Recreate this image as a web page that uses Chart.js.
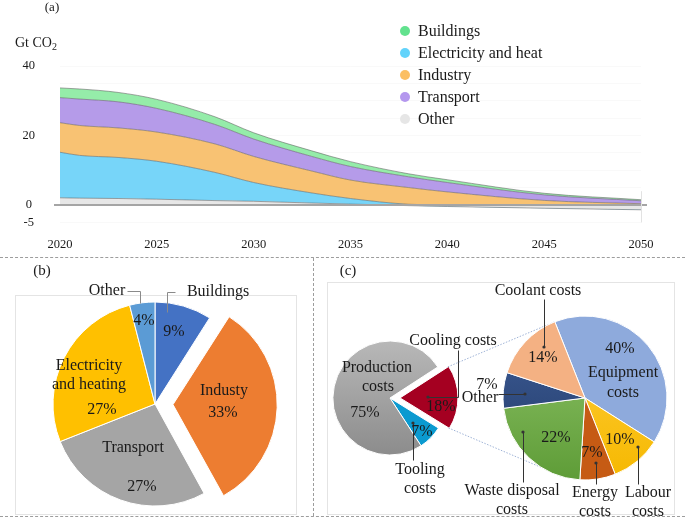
<!DOCTYPE html>
<html>
<head>
<meta charset="utf-8">
<script src="https://cdn.jsdelivr.net/npm/chart.js@4.4.1/dist/chart.umd.min.js"></script>
<style>
  html, body { margin: 0; padding: 0; background: #fff; }
  #wrap { position: relative; width: 685px; height: 525px; overflow: hidden; }
  canvas { position: absolute; }
  .dash { position: absolute; border: 0 dashed #9d9d9d; }
  .box { position: absolute; border: 1px solid #e4e4e4; }
</style>
</head>
<body>
<div id="wrap">
  <div class="box" style="left:15px;top:295px;width:280px;height:218px"></div>
  <div class="box" style="left:327px;top:282px;width:346px;height:231px"></div>
  <div class="dash" style="left:0;top:257px;width:685px;border-top-width:1px"></div>
  <div class="dash" style="left:313px;top:258px;height:258px;border-left-width:1px"></div>
  <div class="dash" style="left:0;top:516px;width:685px;border-top-width:1px"></div>
  <canvas id="areaChart" width="685" height="255" style="left:0;top:0;width:685px;height:255px"></canvas>
  <canvas id="sectorChart" width="312" height="262" style="left:0;top:258px;width:312px;height:262px"></canvas>
  <canvas id="costChart" width="371" height="262" style="left:314px;top:258px;width:371px;height:262px"></canvas>
  <canvas id="coolingChart" width="371" height="262" style="left:314px;top:258px;width:371px;height:262px"></canvas>
</div>
<script>
/* ---- Data: (a) emissions pathway, Gt CO2 ---- */
const years = [2020, 2021, 2023, 2025, 2028, 2030, 2033, 2035, 2038, 2040, 2045, 2050];
const otherEm = [2.1, 2.0, 1.9, 1.7, 1.3, 1.1, 0.6, 0.3, -0.15, -0.4, -0.9, -1.35];
const electricityEm = [13.1, 12.3, 11.8, 10.9, 8.1, 5.4, 2.9, 1.6, 0.25, 0.05, 0.05, 0.05];
const industryEm = [8.5, 8.6, 8.5, 8.4, 8.2, 7.5, 6.3, 5.3, 4.8, 3.75, 1.3, 0.35];
const transportEm = [7.2, 7.6, 7.5, 6.8, 5.6, 5.0, 4.2, 3.9, 3.1, 2.7, 1.6, 0.85];
const buildingsEm = [2.8, 2.9, 2.7, 2.6, 2.2, 1.8, 1.6, 1.4, 0.85, 0.8, 0.45, 0.3];
const xTickValues = [2020, 2025, 2030, 2035, 2040, 2045, 2050];
const yGridValues = [-5, 0, 5, 10, 15, 20, 25, 30, 35, 40];
const yTickLabels = [40, 20, 0, -5];
const legendOrder = ["Buildings", "Electricity and heat", "Industry", "Transport", "Other"];

/* ---- Data: (b) emissions by sector, % ---- */
const sectorNames = ["Buildings", "Industy", "Transport", "Electricity and heating", "Other"];
const sectorShares = [9, 33, 27, 27, 4];

/* ---- Data: (c) cost structure, % ---- */
const costNames = ["Cooling costs", "Tooling costs", "Production costs"];
const costShares = [18, 7, 75];
const coolingNames = ["Equipment costs", "Labour costs", "Energy costs", "Waste disposal costs", "Other", "Coolant costs"];
const coolingShares = [40, 10, 7, 22, 7, 14];

/* ---- Shared style tokens ---- */
const SERIF = "'Liberation Serif', 'Times New Roman', serif";
const INK = "#1a1a1a";
const noteFont = `16px ${SERIF}`;

const vGrad = (chart, r, top, bottom) => {
  const ca = chart.chartArea;
  if (!ca) return bottom;
  const cy = (ca.top + ca.bottom) / 2;
  const g = chart.ctx.createLinearGradient(0, cy - r, 0, cy + r);
  g.addColorStop(0, top);
  g.addColorStop(1, bottom);
  return g;
};

/** Geometry of an arc, with the slice offset (drawn as offset/4) applied. */
const arcGeom = (arc) => {
  const off = (arc.options.offset || 0) / 4;
  const mid = (arc.startAngle + arc.endAngle) / 2;
  return {
    x: arc.x + Math.cos(mid) * off,
    y: arc.y + Math.sin(mid) * off,
    r: arc.outerRadius,
    s: arc.startAngle,
    e: arc.endAngle,
  };
};

/** Text notes and leader lines, placed relative to the pie centre. */
const drawNotes = (chart, notes, leaders, leaderColor) => {
  const arc = chart.getDatasetMeta(0).data[0];
  const cx = arc.x, cy = arc.y;
  const ctx = chart.ctx;
  ctx.save();
  ctx.strokeStyle = leaderColor;
  ctx.fillStyle = leaderColor;
  ctx.lineWidth = 1;
  leaders.forEach((l) => {
    ctx.beginPath();
    l.pts.forEach(([dx, dy], i) => {
      const px = Math.round(cx + dx) + 0.5, py = Math.round(cy + dy) + 0.5;
      i ? ctx.lineTo(px, py) : ctx.moveTo(px, py);
    });
    ctx.stroke();
    if (l.dot) {
      ctx.beginPath();
      ctx.arc(cx + l.pts[0][0], cy + l.pts[0][1], 1.6, 0, Math.PI * 2);
      ctx.fill();
    }
  });
  ctx.font = noteFont;
  ctx.fillStyle = INK;
  ctx.textAlign = "center";
  ctx.textBaseline = "middle";
  notes.forEach((n) => ctx.fillText(n.t, cx + n.dx, cy + n.dy));
  ctx.restore();
};

/* ================= (a) stacked area ================= */

const areaSeries = [
  { label: "Other", data: otherEm, color: "#e7e7e7", dot: "#e6e6e6" },
  { label: "Electricity and heat", data: electricityEm, color: "#77d5f9", dot: "#62d3fb" },
  { label: "Industry", data: industryEm, color: "#f8c273", dot: "#fbbf62" },
  { label: "Transport", data: transportEm, color: "#b59be9", dot: "#b497ee" },
  { label: "Buildings", data: buildingsEm, color: "#95eca9", dot: "#62e28e" },
];

const tickFont = { family: SERIF, size: 12.5 };

const areaNotes = {
  id: "areaNotes",
  afterDatasetsDraw(chart) {
    const { ctx, chartArea, scales: { x, y } } = chart;
    const y0 = y.getPixelForValue(0);
    ctx.save();
    ctx.strokeStyle = "#a5a5a5";
    ctx.lineWidth = 2;
    ctx.beginPath();
    ctx.moveTo(chartArea.left - 6, y0);
    ctx.lineTo(chartArea.right + 6, y0);
    ctx.stroke();
    const xEnd = Math.round(x.getPixelForValue(2050)) + 0.5;
    ctx.strokeStyle = "#e2e2e2";
    ctx.lineWidth = 1;
    ctx.beginPath();
    ctx.moveTo(xEnd, y.getPixelForValue(4));
    ctx.lineTo(xEnd, y.getPixelForValue(-5));
    ctx.stroke();
    ctx.restore();
  },
  afterDraw(chart) {
    const ctx = chart.ctx;
    ctx.save();
    ctx.fillStyle = INK;
    ctx.textBaseline = "middle";
    ctx.textAlign = "center";
    ctx.font = `13px ${SERIF}`;
    ctx.fillText("(a)", 52, 8);
    // y-axis unit, with subscript
    ctx.textAlign = "left";
    ctx.font = `14px ${SERIF}`;
    ctx.fillText("Gt CO", 15, 43);
    const w = ctx.measureText("Gt CO").width;
    ctx.font = `10px ${SERIF}`;
    ctx.fillText("2", 15 + w, 47);
    // legend
    ctx.font = `16px ${SERIF}`;
    legendOrder.forEach((name, i) => {
      const s = areaSeries.find((d) => d.label === name);
      const ly = 31 + i * 22;
      ctx.fillStyle = s.dot;
      ctx.beginPath();
      ctx.arc(405, ly, 5, 0, Math.PI * 2);
      ctx.fill();
      ctx.fillStyle = INK;
      ctx.fillText(name, 418, ly + 1);
    });
    ctx.restore();
  },
};

new Chart(document.getElementById("areaChart"), {
  type: "line",
  data: {
    datasets: areaSeries.map((s, i) => ({
      label: s.label,
      data: years.map((yr, k) => ({ x: yr, y: s.data[k] })),
      backgroundColor: s.color,
      borderColor: "rgba(95, 95, 95, 0.7)",
      borderWidth: 0.8,
      fill: i === 0 ? "origin" : "-1",
      pointRadius: 0,
      cubicInterpolationMode: "monotone",
    })),
  },
  options: {
    responsive: false,
    animation: false,
    events: [],
    layout: { padding: { left: 0, right: 44, top: 66, bottom: 0 } },
    plugins: { legend: { display: false }, tooltip: { enabled: false } },
    scales: {
      x: {
        type: "linear",
        min: 2020,
        max: 2050,
        afterBuildTicks: (s) => { s.ticks = xTickValues.map((v) => ({ value: v })); },
        afterFit: (s) => { s.height = 29; },
        grid: { display: false },
        border: { display: false },
        ticks: { callback: (v) => String(v), font: tickFont, color: INK, padding: 7, maxRotation: 0, autoSkip: false },
      },
      y: {
        stacked: true,
        min: -5,
        max: 40,
        afterBuildTicks: (s) => { s.ticks = yGridValues.map((v) => ({ value: v })); },
        afterFit: (s) => { s.width = 60; },
        grid: {
          drawTicks: false,
          color: (c) => (c.tick && c.tick.value === 0 ? "rgba(0,0,0,0)" : "rgba(0,0,0,0.025)"),
        },
        border: { display: false },
        ticks: {
          callback: (v) => (yTickLabels.includes(v) ? String(v) : ""),
          crossAlign: "center",
          padding: 25,
          font: tickFont,
          color: INK,
        },
      },
    },
  },
  plugins: [areaNotes],
});

/* ================= (b) sector pie ================= */

const pct = (shares, i) => `${shares[i]}%`;

const sectorNotes = {
  id: "sectorNotes",
  afterDraw(chart) {
    drawNotes(
      chart,
      [
        { t: "Other", dx: -48, dy: -113 },
        { t: "Buildings", dx: 63, dy: -112 },
        { t: pct(sectorShares, 4), dx: -11, dy: -83 },
        { t: pct(sectorShares, 0), dx: 19, dy: -72 },
        { t: sectorNames[1], dx: 69, dy: -13 },
        { t: pct(sectorShares, 1), dx: 68, dy: 9 },
        { t: "Electricity", dx: -66, dy: -38 },
        { t: "and heating", dx: -66, dy: -19 },
        { t: pct(sectorShares, 3), dx: -53, dy: 6 },
        { t: sectorNames[2], dx: -22, dy: 44 },
        { t: pct(sectorShares, 2), dx: -13, dy: 83 },
      ],
      [
        { pts: [[-15, -101], [-15, -113], [-28, -113]] },
        { pts: [[12, -92], [12, -112], [20, -112]] },
      ],
      "#8a8a8a"
    );
    const ctx = chart.ctx;
    ctx.save();
    ctx.font = `15px ${SERIF}`;
    ctx.fillStyle = INK;
    ctx.textAlign = "center";
    ctx.textBaseline = "middle";
    ctx.fillText("(b)", 42, 13);
    ctx.restore();
  },
};

new Chart(document.getElementById("sectorChart"), {
  type: "pie",
  data: {
    labels: sectorNames,
    datasets: [
      {
        data: sectorShares,
        backgroundColor: ["#4472c4", "#ed7d31", "#a5a5a5", "#ffc000", "#5b9bd5"],
        borderColor: "#ffffff",
        borderWidth: 1,
        offset: [0, 72, 0, 0, 0],
        radius: 102,
        rotation: 0,
      },
    ],
  },
  options: {
    responsive: false,
    animation: false,
    events: [],
    layout: { padding: { left: 0, right: 2, top: 30, bottom: 0 } },
    plugins: { legend: { display: false }, tooltip: { enabled: false } },
  },
  plugins: [sectorNotes],
});

/* ================= (c) pie of pie ================= */

const costFill = (c) => {
  const fills = ["#a50021", "#0b9ad0", vGrad(c.chart, 57, "#b8b8b8", "#8c8c8c")];
  return fills[c.dataIndex];
};

const costNotes = {
  id: "costNotes",
  afterDraw(chart) {
    drawNotes(
      chart,
      [
        { t: "Production", dx: -13, dy: -30 },
        { t: "costs", dx: -12, dy: -11 },
        { t: pct(costShares, 2), dx: -25, dy: 15 },
        { t: costNames[0], dx: 63, dy: -57 },
        { t: pct(costShares, 0), dx: 51, dy: 9 },
        { t: pct(costShares, 1), dx: 32, dy: 34 },
        { t: "Tooling", dx: 30, dy: 72 },
        { t: "costs", dx: 30, dy: 91 },
      ],
      [
        { pts: [[38, -1], [68, -1], [68, -48]], dot: true },
        { pts: [[23, 25], [23, 62]], dot: true },
      ],
      "#333333"
    );
    const ctx = chart.ctx;
    ctx.save();
    ctx.font = `15px ${SERIF}`;
    ctx.fillStyle = INK;
    ctx.textAlign = "center";
    ctx.textBaseline = "middle";
    ctx.fillText("(c)", 34, 13);
    ctx.restore();
  },
};

const costChart = new Chart(document.getElementById("costChart"), {
  type: "pie",
  data: {
    labels: costNames,
    datasets: [
      {
        data: costShares,
        backgroundColor: costFill,
        borderColor: "#ffffff",
        borderWidth: 1,
        offset: [40, 0, 0],
        radius: 57,
        rotation: 57,
      },
    ],
  },
  options: {
    responsive: false,
    animation: false,
    events: [],
    layout: { padding: { left: 0, right: 219, top: 18, bottom: 0 } },
    plugins: { legend: { display: false }, tooltip: { enabled: false } },
  },
  plugins: [costNotes],
});

const coolingFill = (c) => {
  const fills = [
    "#8eaadc",
    vGrad(c.chart, 82, "#ffd040", "#f6b800"),
    "#c65b14",
    vGrad(c.chart, 82, "#92c66c", "#5e9c37"),
    vGrad(c.chart, 82, "#41609c", "#1f3864"),
    "#f4b183",
  ];
  return fills[c.dataIndex];
};

const coolingNotes = {
  id: "coolingNotes",
  beforeDatasetsDraw(chart) {
    // dotted connectors from the cooling slice to the breakdown pie
    const src = arcGeom(costChart.getDatasetMeta(0).data[0]);
    const dst = arcGeom(chart.getDatasetMeta(0).data[0]);
    const lowDeg = 212;
    const low = ((lowDeg - 90) * Math.PI) / 180;
    const ctx = chart.ctx;
    ctx.save();
    ctx.strokeStyle = "#9fb3d6";
    ctx.lineWidth = 1;
    ctx.setLineDash([1.5, 1.5]);
    ctx.beginPath();
    ctx.moveTo(src.x + Math.cos(src.s) * src.r, src.y + Math.sin(src.s) * src.r);
    ctx.lineTo(dst.x + Math.cos(dst.s) * dst.r, dst.y + Math.sin(dst.s) * dst.r);
    ctx.moveTo(src.x + Math.cos(src.e) * src.r, src.y + Math.sin(src.e) * src.r);
    ctx.lineTo(dst.x + Math.cos(low) * dst.r, dst.y + Math.sin(low) * dst.r);
    ctx.stroke();
    ctx.restore();
  },
  afterDraw(chart) {
    drawNotes(
      chart,
      [
        { t: coolingNames[5], dx: -47, dy: -107 },
        { t: pct(coolingShares, 5), dx: -42, dy: -40 },
        { t: pct(coolingShares, 0), dx: 35, dy: -49 },
        { t: "Equipment", dx: 38, dy: -25 },
        { t: "costs", dx: 38, dy: -5 },
        { t: pct(coolingShares, 4), dx: -98, dy: -13 },
        { t: coolingNames[4], dx: -105, dy: 0 },
        { t: pct(coolingShares, 3), dx: -29, dy: 40 },
        { t: pct(coolingShares, 1), dx: 35, dy: 42 },
        { t: pct(coolingShares, 2), dx: 7, dy: 55 },
        { t: "Waste disposal", dx: -73, dy: 93 },
        { t: "costs", dx: -73, dy: 112 },
        { t: "Energy", dx: 10, dy: 95 },
        { t: "costs", dx: 10, dy: 114 },
        { t: "Labour", dx: 63, dy: 95 },
        { t: "costs", dx: 63, dy: 114 },
      ],
      [
        { pts: [[-41, -51], [-41, -99]], dot: true },
        { pts: [[-60, -4], [-87, -4]], dot: true },
        { pts: [[-62, 34], [-62, 84]], dot: true },
        { pts: [[11, 65], [11, 86]], dot: true },
        { pts: [[53, 49], [53, 86]], dot: true },
      ],
      "#333333"
    );
  },
};

new Chart(document.getElementById("coolingChart"), {
  type: "pie",
  data: {
    labels: coolingNames,
    datasets: [
      {
        data: coolingShares,
        backgroundColor: coolingFill,
        borderColor: "#ffffff",
        borderWidth: 1,
        radius: 82,
        rotation: 338.4,
      },
    ],
  },
  options: {
    responsive: false,
    animation: false,
    events: [],
    layout: { padding: { left: 171, right: 0, top: 18, bottom: 0 } },
    plugins: { legend: { display: false }, tooltip: { enabled: false } },
  },
  plugins: [coolingNotes],
});
</script>
</body>
</html>
